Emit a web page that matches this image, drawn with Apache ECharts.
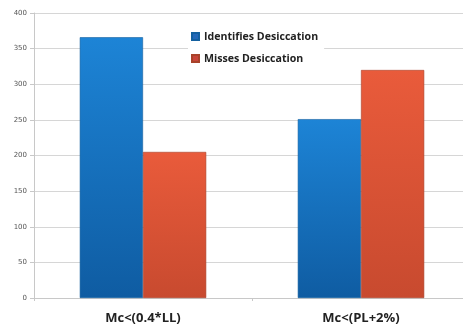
<!DOCTYPE html>
<html>
<head>
<meta charset="utf-8">
<script src="https://cdn.jsdelivr.net/npm/echarts@6/dist/echarts.min.js"></script>
<style>
  html, body { margin: 0; padding: 0; background: #fff; overflow: hidden; }
  /* plot area runs slightly past the right edge of the window */
  #chart { width: 470px; height: 327px; }
</style>
</head>
<body>
<div id="chart"></div>
<script>
// Categories and counts per desiccation test
const categories = ['Mc<(0.4*LL)', 'Mc<(PL+2%)'];
const identifies = [366, 251];
const misses = [205, 320];
const yTicks = [0, 50, 100, 150, 200, 250, 300, 350, 400];

const chart = echarts.init(document.getElementById('chart'));

function grad(top, bottom) {
  return new echarts.graphic.LinearGradient(0, 0, 0, 1, [
    { offset: 0, color: top },
    { offset: 1, color: bottom }
  ]);
}

chart.setOption({
  animation: false,
  backgroundColor: '#ffffff',
  grid: { left: 34, right: 0, top: 13, bottom: 29 },
  legend: {
    left: 188,
    top: 28,
    orient: 'vertical',
    itemWidth: 7,
    itemHeight: 7,
    itemGap: 11,
    padding: [3, 6, 3, 3],
    backgroundColor: '#ffffff',
    icon: 'rect',
    textStyle: {
      fontFamily: 'Open Sans',
      fontWeight: 'bold',
      fontSize: 10.6,
      color: '#222'
    },
    data: [
      { name: 'Identifies Desiccation', itemStyle: { color: '#2468b8' } },
      { name: 'Misses Desiccation', itemStyle: { color: '#c8453a' } }
    ]
  },
  xAxis: {
    type: 'category',
    data: categories,
    axisLine: { lineStyle: { color: '#c8c8c8' } },
    axisTick: { show: true, alignWithLabel: false, length: 3, lineStyle: { color: '#c8c8c8' } },
    axisLabel: {
      fontFamily: 'Open Sans',
      fontWeight: 'bold',
      fontSize: 13,
      color: '#222',
      margin: 14
    }
  },
  yAxis: {
    type: 'value',
    min: yTicks[0],
    max: yTicks[yTicks.length - 1],
    interval: 50,
    axisLine: { show: true, lineStyle: { color: '#c8c8c8' } },
    axisTick: { show: true, length: 4, lineStyle: { color: '#c8c8c8' } },
    splitLine: { lineStyle: { color: '#d6d6d6' } },
    axisLabel: {
      fontFamily: 'DejaVu Sans',
      fontSize: 7,
      color: '#555',
      margin: 7
    }
  },
  series: [
    {
      name: 'Identifies Desiccation',
      type: 'bar',
      data: identifies,
      barGap: '0%',
      barCategoryGap: '42%',
      itemStyle: {
        color: grad('#1d84d6', '#0f5ca2'),
        borderColor: '#14609f',
        borderWidth: 0.6
      }
    },
    {
      name: 'Misses Desiccation',
      type: 'bar',
      data: misses,
      itemStyle: {
        color: grad('#e95b3b', '#c84a2f'),
        borderColor: '#a8422a',
        borderWidth: 0.6
      }
    }
  ]
});
</script>
</body>
</html>
